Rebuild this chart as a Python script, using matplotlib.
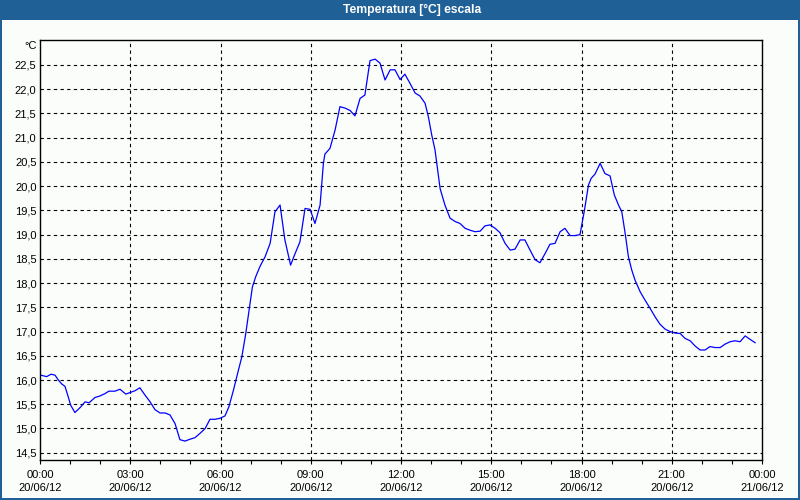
import matplotlib
matplotlib.use("Agg")
import matplotlib.pyplot as plt
from matplotlib.patches import Rectangle
from matplotlib.ticker import MultipleLocator, FixedLocator

# time of day in hours (20/06/12) and temperature in °C
hours = [0.03, 0.22, 0.37, 0.50, 0.61, 0.72, 0.83, 0.94, 1.02, 1.16,
         1.33, 1.50, 1.63, 1.83, 1.99, 2.16, 2.29, 2.49, 2.66, 2.85,
         2.99, 3.16, 3.32, 3.49, 3.66, 3.82, 3.99, 4.16, 4.32, 4.49,
         4.65, 4.82, 4.99, 5.15, 5.32, 5.49, 5.65, 5.82, 5.98, 6.15,
         6.28, 6.43, 6.57, 6.71, 6.84, 6.95, 7.06, 7.17, 7.31, 7.48,
         7.65, 7.81, 7.98, 8.14, 8.33, 8.48, 8.64, 8.81, 8.98, 9.14,
         9.31, 9.42, 9.47, 9.64, 9.81, 9.97, 10.14, 10.31, 10.47, 10.64,
         10.80, 10.97, 11.14, 11.30, 11.47, 11.64, 11.80, 11.97, 12.13, 12.30,
         12.47, 12.63, 12.80, 12.91, 13.02, 13.13, 13.22, 13.30, 13.46, 13.63,
         13.80, 13.96, 14.13, 14.30, 14.46, 14.63, 14.79, 14.96, 15.13, 15.29,
         15.46, 15.63, 15.79, 15.96, 16.12, 16.29, 16.46, 16.62, 16.79, 16.95,
         17.12, 17.29, 17.45, 17.62, 17.79, 17.95, 18.10, 18.23, 18.32, 18.45,
         18.62, 18.78, 18.95, 19.09, 19.23, 19.34, 19.45, 19.56, 19.67, 19.78,
         19.95, 20.11, 20.28, 20.45, 20.61, 20.78, 20.94, 21.11, 21.28, 21.44,
         21.61, 21.78, 21.94, 22.11, 22.27, 22.44, 22.61, 22.77, 22.94, 23.10,
         23.27, 23.44, 23.60, 23.77]
temps = [16.10, 16.07, 16.12, 16.10, 16.00, 15.92, 15.87, 15.65, 15.48, 15.33,
         15.43, 15.55, 15.53, 15.64, 15.67, 15.72, 15.77, 15.77, 15.81, 15.71,
         15.74, 15.78, 15.84, 15.69, 15.55, 15.39, 15.32, 15.32, 15.28, 15.10,
         14.77, 14.74, 14.78, 14.81, 14.90, 15.00, 15.19, 15.19, 15.21, 15.26,
         15.45, 15.79, 16.14, 16.48, 16.96, 17.44, 17.92, 18.13, 18.34, 18.54,
         18.82, 19.47, 19.61, 18.89, 18.37, 18.61, 18.85, 19.54, 19.52, 19.23,
         19.61, 20.47, 20.66, 20.78, 21.16, 21.64, 21.61, 21.56, 21.45, 21.81,
         21.88, 22.59, 22.62, 22.54, 22.19, 22.40, 22.40, 22.20, 22.31, 22.12,
         21.92, 21.86, 21.71, 21.43, 21.06, 20.75, 20.33, 19.95, 19.61, 19.34,
         19.27, 19.23, 19.13, 19.09, 19.06, 19.07, 19.18, 19.20, 19.13, 19.04,
         18.82, 18.68, 18.70, 18.89, 18.89, 18.68, 18.48, 18.42, 18.61, 18.80,
         18.82, 19.06, 19.13, 18.98, 18.98, 19.00, 19.51, 20.02, 20.16, 20.25,
         20.47, 20.26, 20.21, 19.82, 19.61, 19.47, 19.03, 18.54, 18.27, 18.06,
         17.82, 17.65, 17.48, 17.30, 17.15, 17.05, 17.00, 16.97, 16.96, 16.86,
         16.81, 16.70, 16.62, 16.62, 16.69, 16.67, 16.67, 16.74, 16.79, 16.81,
         16.79, 16.91, 16.84, 16.77]

tick_hours = [0, 3, 6, 9, 12, 15, 18, 21, 24]
tick_labels = ['00:00\n20/06/12', '03:00\n20/06/12', '06:00\n20/06/12',
               '09:00\n20/06/12', '12:00\n20/06/12', '15:00\n20/06/12',
               '18:00\n20/06/12', '21:00\n20/06/12', '00:00\n21/06/12']
y_ticks = [14.5 + 0.5 * i for i in range(17)]

title = 'Temperatura [°C] escala'
unit = '°C'

blue = '#1f6097'
bg = '#fbfdfb'

plt.rcParams['font.family'] = ['Liberation Sans', 'DejaVu Sans']

fig = plt.figure(figsize=(8, 5), dpi=100, facecolor=bg)

# window frame: title bar and thin border
fig.patches.append(Rectangle((0, 480 / 500), 1, 20 / 500, transform=fig.transFigure,
                             facecolor=blue, edgecolor='none', zorder=0))
fig.patches.append(Rectangle((0, 0), 2 / 800, 1, transform=fig.transFigure,
                             facecolor=blue, edgecolor='none', zorder=0))
fig.patches.append(Rectangle((798 / 800, 0), 2 / 800, 1, transform=fig.transFigure,
                             facecolor=blue, edgecolor='none', zorder=0))
fig.patches.append(Rectangle((0, 0), 1, 2 / 500, transform=fig.transFigure,
                             facecolor=blue, edgecolor='none', zorder=0))
fig.text(412 / 800, 1 - 10 / 500, title, color='white', fontsize=8.7,
         fontweight='bold', ha='center', va='center')

ax = fig.add_axes([40 / 800, 40 / 500, 722 / 800, 420 / 500])
ax.set_facecolor(bg)
ax.plot(hours, temps, color='#0000ff', lw=0.9)

ax.set_xlim(0, 24)
ax.set_ylim(14.35, 23.015)

ax.xaxis.set_major_locator(FixedLocator(tick_hours))
ax.xaxis.set_minor_locator(MultipleLocator(1))
ax.set_xticks(tick_hours)
ax.set_xticklabels(tick_labels, fontsize=8, linespacing=1.35)
ax.set_yticks(y_ticks)
ax.set_yticklabels([('%.1f' % v).replace('.', ',') for v in y_ticks], fontsize=8)

ax.tick_params(axis='x', which='both', direction='out', length=3, width=0.8,
               pad=4, colors='black')
ax.tick_params(axis='y', length=0, pad=2.5)

for v in tick_hours[1:-1]:
    ax.axvline(v, color='black', lw=0.8, ls=(0, (3, 3)), zorder=1)
for v in y_ticks:
    ax.axhline(v, color='black', lw=0.8, ls=(0, (3, 3)), zorder=1)

for s in ax.spines.values():
    s.set_color('black')
    s.set_linewidth(1)

fig.text(37 / 800, 1 - 46 / 500, unit, fontsize=8, ha='right', va='center')

fig.savefig('out.png', dpi=100, facecolor=bg)
